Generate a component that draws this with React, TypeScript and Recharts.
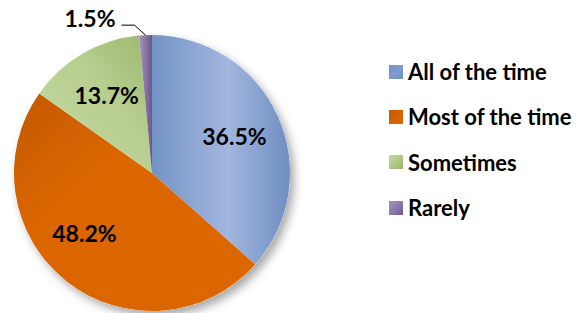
import { PieChart, Pie, Cell } from "recharts";

const categories = ["All of the time", "Most of the time", "Sometimes", "Rarely"];
const shares = [36.5, 48.2, 13.7, 1.5];
const labels = ["36.5%", "48.2%", "13.7%", "1.5%"];

const GRADS = [
  { id: "gBlue", stops: [["0", "#7393C6"], ["0.55", "#A2B6DE"], ["1", "#6F8EC2"]], dir: [0, 0, 1, 0], swatch: "#7E9CCD" },
  { id: "gOrange", stops: [["0", "#C45900"], ["0.35", "#DB6600"], ["1", "#DC6700"]], dir: [0, 0, 1, 1], swatch: "#D46200" },
  { id: "gGreen", stops: [["0", "#C6D9A4"], ["0.6", "#B7CE8E"], ["1", "#9CB66D"]], dir: [0, 1, 1, 0], swatch: "#AFC886" },
  { id: "gPurple", stops: [["0", "#A495C0"], ["1", "#6A5888"]], dir: [0, 0, 1, 0], swatch: "#8C7BAA" },
];

const data = categories.map((name, i) => ({ name, value: shares[i], label: labels[i] }));

const FONT = "Lato, 'Open Sans', sans-serif";
const RAD = Math.PI / 180;

function renderLabel(props: any) {
  const { cx, cy, midAngle, outerRadius, index } = props;
  const cos = Math.cos(-midAngle * RAD);
  const sin = Math.sin(-midAngle * RAD);
  if (index === 3) {
    // small slice: outside label with leader line
    const sx = cx + outerRadius * cos;
    const sy = cy + outerRadius * sin;
    const mx = sx - 11;
    const my = sy - 10;
    const ex = mx - 13;
    return (
      <g>
        <polyline points={`${sx},${sy} ${mx},${my} ${ex},${my}`} fill="none" stroke="#000" strokeWidth={1} />
        <text x={ex - 6} y={my - 7} textAnchor="end" dominantBaseline="central"
          fontFamily={FONT} fontWeight={700} fontSize={23} fill="#000">{labels[index]}</text>
      </g>
    );
  }
  const r = outerRadius * 0.655;
  const ang = index === 1 ? midAngle - 10 : midAngle;
  const x = cx + r * Math.cos(-ang * RAD);
  const y = cy + r * Math.sin(-ang * RAD);
  return (
    <text x={x} y={y} textAnchor="middle" dominantBaseline="central"
      fontFamily={FONT} fontWeight={700} fontSize={23} fill="#000">{labels[index]}</text>
  );
}

export default function App() {
  return (
    <div style={{ position: "absolute", left: 0, top: 0, width: 588, height: 313, background: "#fff" }}>
      <PieChart width={588} height={313} margin={{ top: 0, right: 0, bottom: 0, left: 0 }}>
        <defs>
          {GRADS.map(g => (
            <linearGradient key={g.id} id={g.id} x1={g.dir[0]} y1={g.dir[1]} x2={g.dir[2]} y2={g.dir[3]}>
              {g.stops.map(([o, c]) => <stop key={o} offset={o} stopColor={c} />)}
            </linearGradient>
          ))}
          <filter id="shadow" x="-20%" y="-20%" width="140%" height="140%">
            <feDropShadow dx={4} dy={5} stdDeviation={5} floodColor="#000" floodOpacity={0.35} />
          </filter>
        </defs>
        <Pie data={[{ name: "bg", value: 1 }]} dataKey="value" cx={152} cy={173} outerRadius={138}
          startAngle={90} endAngle={-270} stroke="none" isAnimationActive={false} legendType="none">
          <Cell fill="#fff" filter="url(#shadow)" />
        </Pie>
        <Pie data={data} dataKey="value" nameKey="name" cx={152} cy={173} outerRadius={138}
          startAngle={90} endAngle={-270} stroke="none" isAnimationActive={false}
          label={renderLabel} labelLine={false}>
          {data.map((_, i) => <Cell key={i} fill={`url(#${GRADS[i].id})`} />)}
        </Pie>
      </PieChart>
      {/* legend */}
      <div style={{ position: "absolute", left: 389, top: 49, fontFamily: FONT }}>
        {categories.map((name, i) => {
          const g = GRADS[i];
          return (
            <div key={name} style={{ display: "flex", alignItems: "center", height: 45.3 }}>
              <div style={{
                width: 14, height: 14, marginRight: 5,
                background: `linear-gradient(135deg, ${g.stops[0][1]}, ${g.swatch}, ${g.stops[g.stops.length - 1][1]})`,
              }} />
              <span style={{ fontSize: 22, fontWeight: 700, color: "#000", whiteSpace: "nowrap" }}>{name}</span>
            </div>
          );
        })}
      </div>
    </div>
  );
}
